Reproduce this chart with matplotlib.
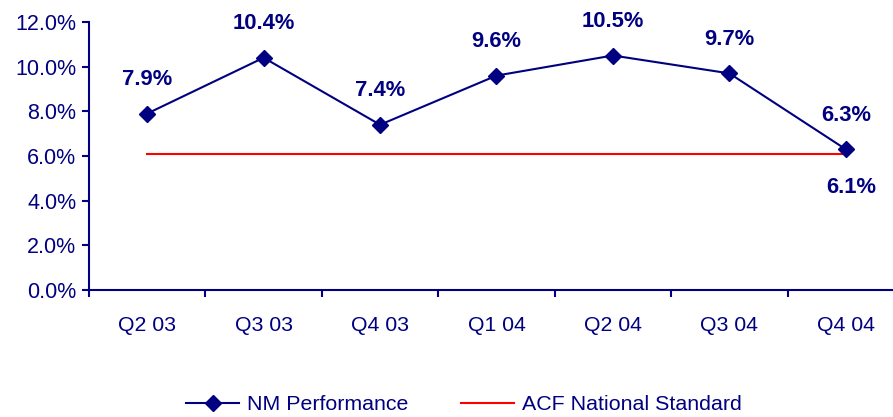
import matplotlib.pyplot as plt
from matplotlib.ticker import FixedLocator, FuncFormatter

# data
quarters = ["Q2 03", "Q3 03", "Q4 03", "Q1 04", "Q2 04", "Q3 04", "Q4 04"]
nm_performance = [7.9, 10.4, 7.4, 9.6, 10.5, 9.7, 6.3]
acf_standard = [6.1, 6.1, 6.1, 6.1, 6.1, 6.1, 6.1]

navy = "#000080"
red = "#FF0000"
plt.rcParams["font.family"] = ["Liberation Sans", "DejaVu Sans"]

fig = plt.figure(figsize=(8.93, 4.17), dpi=100)
# axes runs past the right edge as in the reference
ax = fig.add_axes([89 / 893, 1 - 290 / 417, (904 - 89) / 893, 268 / 417])

x = list(range(len(quarters)))
ax.plot(x, nm_performance, color=navy, lw=1.5, marker="D", markersize=8.5,
        label="NM Performance", zorder=3)
ax.plot(x, acf_standard, color=red, lw=1.5, label="ACF National Standard", zorder=2)

for xi, v in zip(x, nm_performance):
    ax.annotate(f"{v:.1f}%", (xi, v), xytext=(0, 24.5), textcoords="offset points",
                ha="center", va="center", fontsize=15.8, fontweight="bold", color=navy)
ax.annotate(f"{acf_standard[-1]:.1f}%", (x[-1], acf_standard[-1]), xytext=(4, -24),
            textcoords="offset points", ha="center", va="center",
            fontsize=15.8, fontweight="bold", color=navy)

ax.set_xlim(-0.5, len(quarters) - 0.5)
ax.set_ylim(0, 12)
ax.set_yticks([0, 2, 4, 6, 8, 10, 12])
ax.yaxis.set_major_formatter(FuncFormatter(lambda v, p: f"{v:.1f}%"))
ax.set_xticks(x)
ax.set_xticklabels(quarters)
ax.xaxis.set_minor_locator(FixedLocator([i + 0.5 for i in range(-1, len(quarters))]))
ax.tick_params(axis="x", which="major", length=0, pad=19, labelsize=15.3, labelcolor=navy)
ax.tick_params(axis="x", which="minor", length=5, width=1.5, color=navy, direction="out")
ax.tick_params(axis="y", length=5, width=1.5, color=navy, labelsize=15.5,
               labelcolor=navy, pad=4)

for s in ["top", "right"]:
    ax.spines[s].set_visible(False)
for s in ["left", "bottom"]:
    ax.spines[s].set_color(navy)
    ax.spines[s].set_linewidth(1.5)

leg = fig.legend(loc="center", bbox_to_anchor=(464 / 893, 1 - 405 / 417), ncol=2,
                 frameon=False, fontsize=15.4, handlelength=2.5, handletextpad=0.37,
                 columnspacing=2.43, borderaxespad=0, borderpad=0)
for t in leg.get_texts():
    t.set_color(navy)

fig.savefig("out.png", dpi=100)
